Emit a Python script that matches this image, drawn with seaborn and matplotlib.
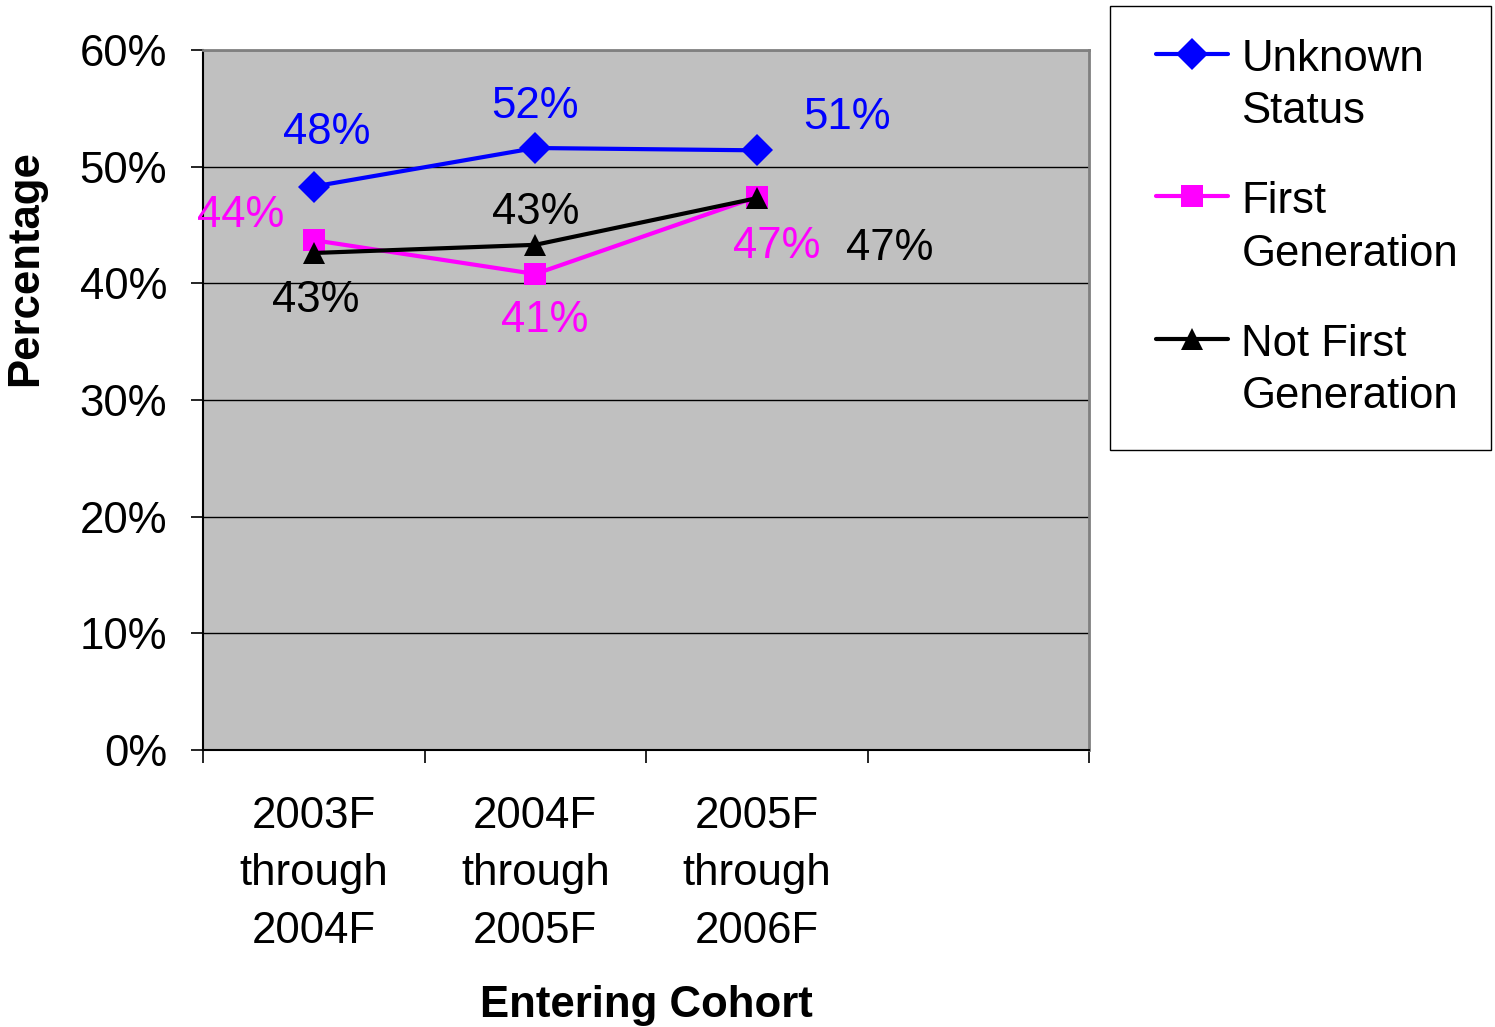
import matplotlib
matplotlib.use("Agg")
import matplotlib.pyplot as plt
import seaborn as sns
import pandas as pd
import numpy as np
from matplotlib.ticker import FixedLocator, PercentFormatter
from matplotlib.legend_handler import HandlerLine2D

# values (percent)
cohorts = ["2003F\nthrough\n2004F", "2004F\nthrough\n2005F", "2005F\nthrough\n2006F"]
series_names = ["Unknown\nStatus", "First\nGeneration", "Not First\nGeneration"]
unknown_status = [48.3, 51.6, 51.4]
first_generation = [43.7, 40.8, 47.4]
not_first_generation = [42.6, 43.3, 47.3]

colors = ["#0000FF", "#FF00FF", "#000000"]
markers = ["D", "s", "^"]
# label offsets in pixels (dx, dy) for each series / point
label_offsets = [
    [(13, 54), (0, 41), (90, 33)],
    [(-73, 25), (9, -46), (20, -49)],
    [(2, -47), (0, 32), (133, -50)],
]

sns.set_style("white")
plt.rcParams["font.family"] = ["Liberation Sans", "DejaVu Sans"]
for k in ["text.color", "axes.labelcolor", "xtick.color", "ytick.color"]:
    plt.rcParams[k] = "black"
FS = 31.5


class FirstLineHandler(HandlerLine2D):
    # puts the legend handle level with the first line of a two-line label
    def create_artists(self, legend, orig_handle, xdescent, ydescent, width, height, fontsize, trans):
        arts = super().create_artists(legend, orig_handle, xdescent, ydescent, width, height, fontsize, trans)
        pad = 0.3 * fontsize
        a = -xdescent
        for art in arts:
            x = np.asarray(art.get_xdata(), dtype=float)
            art.set_xdata(a + pad + (x - a) * (1 - pad / width))
            art.set_ydata(np.asarray(art.get_ydata(), dtype=float) + 0.74 * fontsize)
        return arts


values = [unknown_status, first_generation, not_first_generation]
df = pd.DataFrame({
    "pos": np.tile(np.arange(len(cohorts)), len(series_names)),
    "Series": np.repeat(series_names, len(cohorts)),
    "Value": np.concatenate(values),
})

fig = plt.figure(figsize=(14.95, 10.27), dpi=100)
ax = fig.add_axes([203 / 1495, 1 - 750 / 1027, (1089 - 203) / 1495, 700 / 1027])
ax.set_facecolor("#C0C0C0")

sns.lineplot(data=df, x="pos", y="Value", hue="Series", style="Series",
             palette=dict(zip(series_names, colors)),
             markers=dict(zip(series_names, markers)),
             dashes=False, linewidth=3, markersize=16,
             markeredgewidth=0, ax=ax, legend=False)

for vals, col, offs in zip(values, colors, label_offsets):
    for i, (v, off) in enumerate(zip(vals, offs)):
        ax.annotate(f"{round(v):.0f}%", (i, v), xytext=off, textcoords="offset pixels",
                    ha="center", va="center", color=col, fontsize=FS)

ax.set_xlim(-0.5, 3.5)
ax.set_ylim(0, 60)
ax.yaxis.set_major_locator(FixedLocator(np.arange(0, 61, 10)))
ax.yaxis.set_major_formatter(PercentFormatter(decimals=0))
ax.grid(axis="y", color="#000000", linewidth=1)
ax.set_axisbelow(True)

ax.set_xticks(range(len(cohorts)))
ax.set_xticklabels(cohorts, fontsize=FS, linespacing=1.52)
ax.xaxis.set_minor_locator(FixedLocator(np.arange(-0.5, 3.6, 1)))
ax.tick_params(axis="x", which="major", length=0, pad=33)
ax.tick_params(axis="x", which="minor", length=9, width=1.2, color="black", direction="out")
ax.tick_params(axis="y", length=9, width=1.2, color="black", direction="out", labelsize=FS, pad=17)
ax.tick_params(axis="both", left=True, bottom=True, which="both")

for s in ["left", "bottom"]:
    ax.spines[s].set_color("black")
    ax.spines[s].set_linewidth(1.5)
for s in ["top", "right"]:
    ax.spines[s].set_color("#808080")
    ax.spines[s].set_linewidth(2)

ax.set_xlabel("Entering Cohort", fontsize=FS, fontweight="bold", labelpad=24)
ax.set_ylabel("Percentage", fontsize=FS, fontweight="bold")
ax.yaxis.set_label_coords(-0.177, 0.689)

handles = [plt.Line2D([], [], color=c, marker=m, markersize=16, linewidth=3, markeredgewidth=0)
           for c, m in zip(colors, markers)]
leg = fig.legend(handles, series_names, loc="upper left",
                 bbox_to_anchor=(1110 / 1495, 1 - 6 / 1027), fontsize=FS,
                 frameon=True, fancybox=False, edgecolor="black", framealpha=1,
                 borderpad=0.75, borderaxespad=0, handlelength=1.95, handletextpad=0.3,
                 labelspacing=1.12,
                 handler_map={plt.Line2D: FirstLineHandler()})
leg.get_frame().set_linewidth(1)
for t in leg.get_texts():
    t.set_linespacing(1.36)

fig.savefig("out.png", dpi=100)
